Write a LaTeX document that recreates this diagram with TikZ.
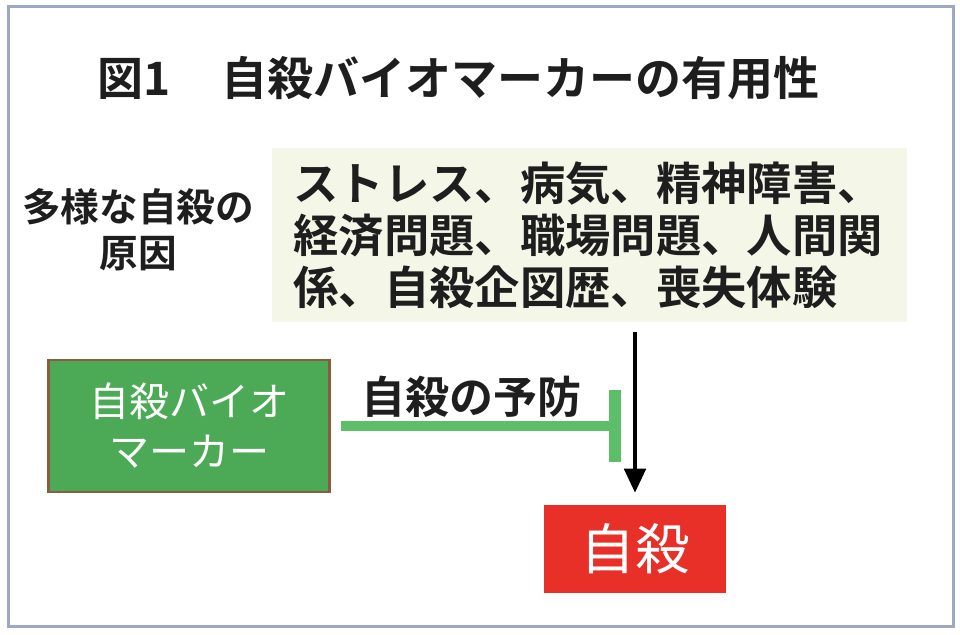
\documentclass[tikz,border=0pt]{standalone}
\usepackage{fontspec}
\setmainfont{Noto Sans CJK JP}
\newfontfamily\cjk{Noto Sans CJK JP}
\newfontfamily\cjkb{Noto Sans CJK JP Bold}
\usetikzlibrary{arrows.meta}
\definecolor{framec}{RGB}{160,166,200}
\definecolor{causefill}{RGB}{244,247,232}
\definecolor{biofill}{RGB}{76,170,86}
\definecolor{bioborder}{RGB}{140,92,64}
\definecolor{inhib}{RGB}{92,190,104}
\definecolor{suired}{RGB}{232,48,40}
\definecolor{txt}{RGB}{30,30,30}
\tikzset{
  lbl/.style={inner sep=0pt, text=txt, font=\cjkb},
  causebox/.style={fill=causefill, draw=none, minimum width=476.25pt, minimum height=130.5pt, inner xsep=15.75pt, align=left, text width=444pt, text=txt},
  biobox/.style={fill=biofill, draw=bioborder, line width=2pt, minimum width=210.75pt, minimum height=99pt, align=center, text=white},
  suibox/.style={fill=suired, draw=none, minimum width=136.5pt, minimum height=66pt, text=white},
  causearrow/.style={-{Triangle[length=18pt,width=16pt]}, line width=3pt, black},
  inhibline/.style={line width=7pt, inhib},
}
\begin{document}
\begin{tikzpicture}[x=0.75pt,y=-0.75pt]
\useasboundingbox (0,0) rectangle (960,635);
\draw[framec, line width=2.25pt] (8,7) rectangle (953,626);
\node[lbl, anchor=west, font=\cjkb\fontsize{34.5}{40}\selectfont] (title) at (97,78) {図1\hspace{1.1em}自殺バイオマーカーの有用性};
\node[lbl, align=center, font=\cjkb\fontsize{29}{34.5}\selectfont] (causelbl) at (138,230) {多様な自殺の\\原因};
\node[causebox, font=\cjkb\fontsize{34}{39}\selectfont] (causes) at (589.5,235) {ストレス、病気、精神障害、\\経済問題、職場問題、人間関\\係、自殺企図歴、喪失体験};
\node[biobox, font=\cjk\fontsize{30}{37.5}\selectfont] (bio) at (189,426) {自殺バイオ\\マーカー};
\node[suibox, font=\cjk\fontsize{41}{48}\selectfont] (sui) at (635,549) {自殺};
\node[lbl, font=\cjkb\fontsize{33}{40}\selectfont] (prev) at (471,397) {自殺の予防};
\coordinate (block) at (615,426);
\draw[inhibline, shorten <=7.5pt] (bio.east) -- (block);
\draw[inhib, line width=9pt] ([yshift=27pt]block) -- ([yshift=-27pt]block);
\draw[causearrow, shorten <=7.5pt, shorten >=9pt] (sui.north |- causes.south) -- (sui.north);
\end{tikzpicture}
\end{document}
